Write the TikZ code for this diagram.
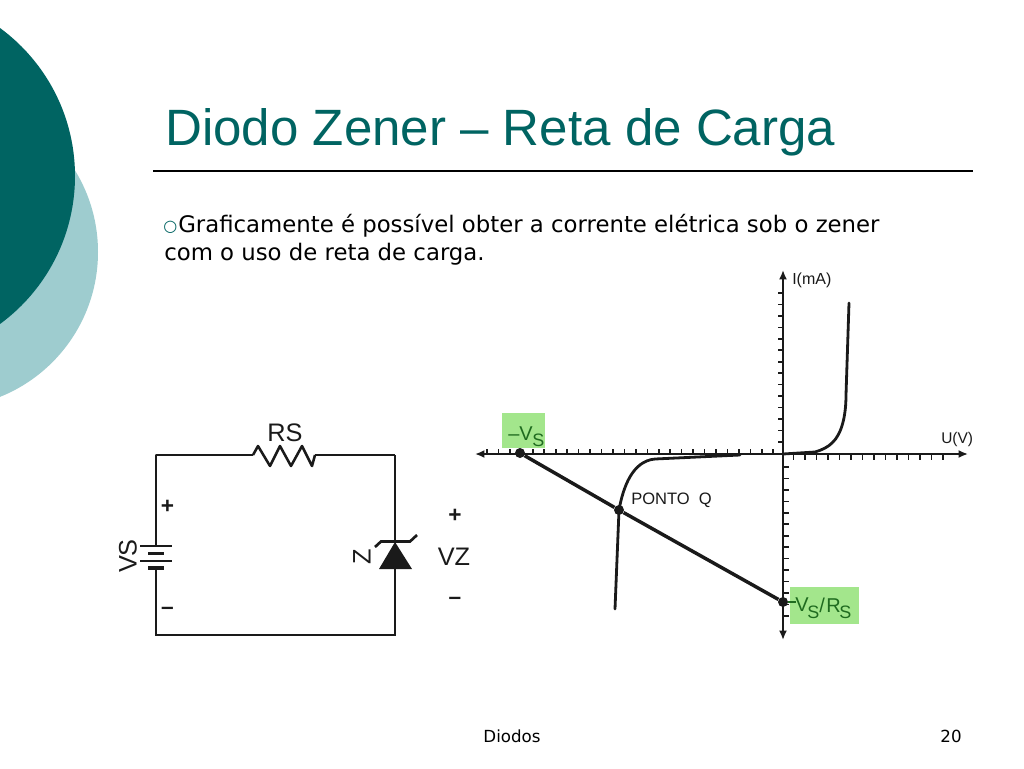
\documentclass[tikz,border=0pt]{standalone}
\usepackage{fontspec}
\setmainfont{DejaVu Sans}
\newfontfamily\titlefont{Liberation Sans}
\newfontfamily\figfont{Liberation Sans}
\usetikzlibrary{arrows.meta}
\definecolor{teal1}{HTML}{006462}
\definecolor{teal2}{HTML}{9ECCCF}
\definecolor{boxgreen}{HTML}{A3E68C}
\definecolor{textgreen}{HTML}{1F6B1F}
\definecolor{ink}{HTML}{1A1A1A}
\tikzset{
  wire/.style={draw=ink,line width=1.9pt,line join=miter},
  thin wire/.style={draw=ink,line width=1.4pt},
  axisline/.style={draw=ink,line width=1.6pt,-{Latex[length=7pt,width=6pt]}},
  tick/.style={draw=ink,line width=1.2pt},
  curve/.style={draw=ink,line width=2.1pt,line cap=round},
  fig/.style={font=\figfont\fontsize{19pt}{19pt}\selectfont,text=ink,inner sep=0pt},
  sign/.style={font=\figfont\bfseries\fontsize{17pt}{17pt}\selectfont,text=ink,inner sep=0pt},
  body/.style={anchor=base west,inner sep=0pt,font=\fontsize{17.1pt}{20pt}\selectfont,text=black},
  foot/.style={inner sep=0pt,font=\fontsize{12.5pt}{14pt}\selectfont,text=black,anchor=base},
  green label/.style={inner sep=0pt,anchor=base west,text=textgreen,font=\figfont\fontsize{15pt}{15pt}\selectfont},
  green sub/.style={inner sep=0pt,anchor=base west,text=textgreen,font=\figfont\fontsize{13.5pt}{13.5pt}\selectfont},
  dot/.style={circle,fill=ink,inner sep=0pt,minimum size=7.5pt}
}
\begin{document}
\begin{tikzpicture}[x=0.75pt,y=-0.75pt]
\useasboundingbox (0,0) rectangle (1024,768);
\fill[white] (0,0) rectangle (1024,768);
% decorative circles
\begin{scope}
\clip (0,0) rectangle (1024,768);
\fill[teal2] (-58,252) circle[radius=156];
\fill[teal1] (-108.5,176) circle[radius=183.5];
\end{scope}
% title
\node[anchor=base west,inner sep=0pt,text=teal1,font=\titlefont\fontsize{38.3pt}{40pt}\selectfont] (title) at (165,145) {Diodo Zener – Reta de Carga};
\coordinate (ruleL) at (153,171);
\coordinate (ruleR) at (973,171);
\draw[black,line width=0.8pt] (ruleL) -- (ruleR);
% body
\node[anchor=base west,inner sep=0pt,text=teal1,font=\fontsize{12pt}{14pt}\selectfont] (bullet) at (163,231) {○};
\node[body] (line1) at (178,232) {Graficamente é possível obter a corrente elétrica sob o zener};
\node[body] (line2) at (164,260) {com o uso de reta de carga.};
% circuit
\coordinate (tl) at (156,455);
\coordinate (tr) at (395,455);
\coordinate (bl) at (156,635);
\coordinate (br) at (395,635);
\coordinate (batT) at (156,546);
\coordinate (batB) at (156,568);
\coordinate (zK) at (395,541);
\coordinate (zA) at (395,569);
\coordinate (rL) at (253,455);
\coordinate (rR) at (315,455);
\draw[thin wire,line cap=round] (batT) -- (tl);
\draw[wire] (tl) -- (rL);
\draw[wire,line join=round] (rL) -- (258,446) -- (270,466) -- (280,446) -- (291,466) -- (302,446) -- (312,466) -- (rR);
\draw[wire] (rR) -- (tr);
\draw[thin wire] (tr) -- (zK);
\draw[thin wire] (zA) -- (br) -- (bl) -- (batB);
\draw[ink,line width=1.4pt] (140,546) -- (172,546);
\draw[ink,line width=2.6pt] (148,553.5) -- (164,553.5);
\draw[ink,line width=1.4pt] (140,561) -- (172,561);
\draw[ink,line width=2.6pt] (148,568) -- (164,568);
\fill[ink] (395,542) -- (412,569) -- (379,569) -- cycle;
\draw[ink,line width=2pt] (375,547) -- (381,541.5) -- (410,541.5) -- (417,535);
\node[fig] (rs) at (285,432.5) {RS};
\node[fig,rotate=90] (vs) at (128,556) {VS};
\node[fig,rotate=90,font=\figfont\fontsize{19pt}{19pt}\selectfont] (z) at (362,557) {Z};
\node[fig] (vz) at (454,557) {VZ};
\node[sign] (p1) at (167.5,507) {+};
\node[sign] (m1) at (167.5,611) {–};
\node[sign] (p2) at (455,516) {+};
\node[sign] (m2) at (455,601) {–};
% graph
\fill[boxgreen] (502,413) rectangle (545,448);
\fill[boxgreen] (790,587) rectangle (859,624);
\coordinate (xL) at (475,454);
\coordinate (xR) at (968,454);
\coordinate (yT) at (783,270);
\coordinate (yB) at (783,640);
\draw[axisline] (783,454) -- (xL);
\draw[axisline] (783,454) -- (xR);
\draw[axisline] (783,454) -- (yT);
\draw[axisline] (783,454) -- (yB);
\foreach \k in {0,...,25} \draw[tick] ({487+11.45*\k},449) -- ++(0,5);
\foreach \k in {0,...,13} \draw[tick] ({793.5+11.5*\k},454) -- ++(0,6);
\foreach \k in {0,...,13} \draw[tick] (778,{293+11.45*\k}) -- ++(5,0);
\foreach \k in {0,...,13} \draw[tick] (783,{467+11.45*\k}) -- ++(6,0);
\draw[curve] (783,454) -- (815,452) .. controls (822,450) and (828,447) .. (832,443) .. controls (842,434) and (846,415) .. (846,395) -- (849,303);
\draw[curve] (740,455) -- (655,459) .. controls (632,461) and (623,488) .. (619,510) -- (615,609);
\node[dot] (vsdot) at (520,453) {};
\node[dot] (q) at (619,510) {};
\node[dot] (rdot) at (783,602) {};
\draw[ink,line width=2.6pt] (vsdot) -- (q) -- (rdot);
\draw[textgreen,line width=0.8pt] (rdot) -- (796,602);
\node[green label] (vstxt) at (508,440) {–V};
\node[green sub] (vssub) at (532,446) {S};
\node[green label] (v2) at (795,611) {V};
\node[green sub] (s2) at (807,618) {S};
\node[green label] (sl) at (819,612) {/};
\node[green label] (r2) at (826,612) {R};
\node[green sub] (s3) at (839,618) {S};
\node[fig,anchor=base west,font=\figfont\fontsize{12.4pt}{12.4pt}\selectfont] (ponto) at (631,504) {PONTO\ \ Q};
\node[fig,anchor=base west,font=\figfont\fontsize{12pt}{12pt}\selectfont] (ima) at (792,284) {I(mA)};
\node[fig,anchor=base west,font=\figfont\fontsize{11.6pt}{12pt}\selectfont] (uv) at (941,443) {U(V)};
% footer
\node[foot] (f1) at (512,742) {Diodos};
\node[foot] (f2) at (951,742) {20};
\end{tikzpicture}
\end{document}
